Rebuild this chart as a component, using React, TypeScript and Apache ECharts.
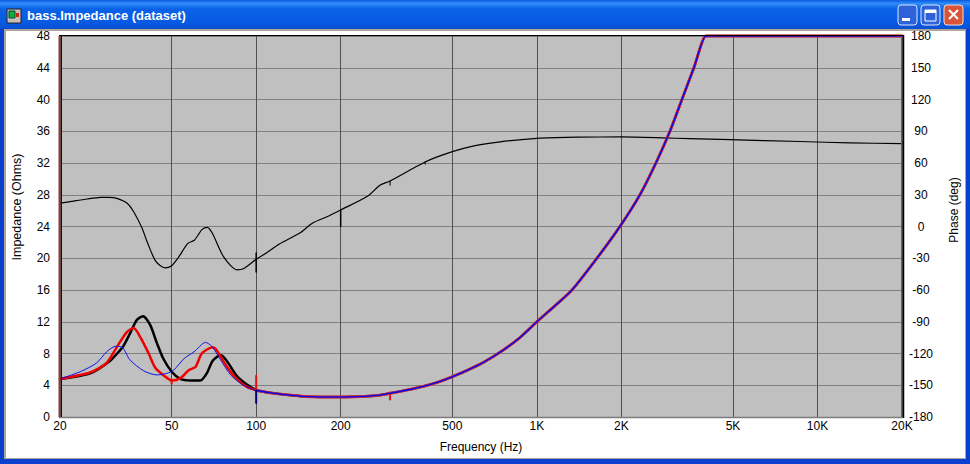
import React, { useEffect, useRef } from "react";
import * as echarts from "echarts";

const xTickValues = [20, 50, 100, 200, 500, 1000, 2000, 5000, 10000, 20000];
const xTickLabels: Record<number, string> = { 20: "20", 50: "50", 100: "100", 200: "200", 500: "500", 1000: "1K", 2000: "2K", 5000: "5K", 10000: "10K", 20000: "20K" };

// impedance above the first resonance region, shared by all three traces
const sharedHigh = [
  [100, 3.35], [112, 3.05], [124.6, 2.85], [149, 2.58], [170, 2.52], [199, 2.52], [235, 2.58], [268, 2.7], [307, 3.05], [350, 3.45], [393, 3.85], [445, 4.4], [498, 5.05],
  [570, 5.95], [643, 6.85], [757, 8.4], [870, 10], [1000, 12], [1159, 14], [1334, 16], [1637, 20], [1977, 24],
  [2330, 28], [2656, 32], [2980, 36], [3288, 40], [3627, 44], [4000, 48], [4040, 48], [6000, 48], [10000, 48], [20000, 48],
];
const blackLow = [
  [20, 4.8], [25.6, 5.5], [30.2, 7.1], [32.7, 8.4], [33.6, 8.9], [35.5, 10.5], [37.5, 12.2], [39.5, 12.7], [41.9, 11.6], [44.3, 9.3], [46.6, 7.4], [50, 5.7],
  [53.7, 4.8], [58.3, 4.6], [63.3, 4.6], [66.7, 5.5], [70, 7.1], [74.7, 7.8], [78.8, 7], [85.2, 5.2], [92.6, 4.1], [100, 3.4],
];
const redLow = [
  [20, 4.8], [25.6, 5.6], [29.3, 6.8], [32, 8.9], [34.6, 10.7], [36.6, 11.2], [38.6, 10.1], [41.4, 8], [43.7, 6.2], [46.6, 5.3], [50, 4.6],
  [53.7, 4.9], [57.5, 5.9], [60.8, 6.3], [64, 8], [70, 8.8], [72, 8.5], [78.8, 6.3], [85.2, 4.8], [92.6, 3.8], [100, 3.4],
];
const blueLow = [
  [20, 4.8], [23.6, 5.7], [27, 6.8], [29.3, 8.2], [31.5, 8.9], [33.3, 8.8], [35.5, 7.2], [39.8, 5.8], [44.3, 5.3], [48, 5.5], [50.8, 5.9],
  [55.5, 7.4], [60, 8.2], [66, 9.4], [69.5, 8.9], [74.7, 7.2], [81.1, 5.3], [90, 4], [100, 3.3],
];
const phaseTrace = [
  [20, 22], [22.3, 24], [25, 26], [27.8, 27.5], [30, 27.6], [31.9, 26.6], [34.7, 22], [36.6, 14], [39.2, -1.5], [40.8, -14], [43.9, -33], [47.3, -39], [50, -37],
  [52.6, -30], [57.1, -16], [60.2, -13], [64.2, -2.7], [67, -0.8], [69.8, -6.4], [76.7, -29], [85.4, -41], [90, -40], [100, -31], [108.7, -25], [121, -16.5],
  [143, -6.2], [159, 3.3], [178, 9], [200, 15.6], [250, 28.8], [276, 39], [300, 43], [400, 61], [500, 70.7], [592, 76], [739, 80], [1026, 83.5],
  [1400, 84.5], [2000, 84.6], [2800, 83.8], [3500, 83], [4876, 82], [8660, 80.3], [13040, 79], [20000, 78.4],
];
// narrow spikes in the measured traces
const blackPhaseSpike100 = [[100, -25], [100, -43]];
const blackPhaseSpike200 = [[200, 15.6], [200, 0]];
const blackPhaseSpike300 = [[300, 43], [300, 39]];
const blackPhaseSpike400 = [[400, 61], [400, 59]];
const redSpike100 = [[100, 5.2], [100, 3.4]];
const redSpike50 = [[50, 4.6], [50, 4.2]];
const redSpike300 = [[300, 3.1], [300, 2.2]];
const blueSpike100 = [[100, 3.3], [100, 1.75]];

const line = (name: string, data: number[][], color: string, width: number, yAxisIndex = 0, smooth: number | boolean = 0.25) => ({
  name, type: "line", data, yAxisIndex, smooth, clip: false, showSymbol: false, symbol: "none", silent: true,
  lineStyle: { color, width, cap: "round", join: "round" },
});

const FONT = "'Liberation Sans', Arial, sans-serif";
echarts.graphic.registerShape("closeX", echarts.graphic.extendPath("M0 0L9 9M9 0L0 9", {}));

const chrome: any[] = [
  { type: "rect", silent: true, z: -10, shape: { x: 0, y: 0, width: 970, height: 464 }, style: { fill: "#0b3fd0" } },
  { type: "rect", silent: true, z: -9, shape: { x: 0, y: 0, width: 970, height: 29 }, style: { fill: new echarts.graphic.LinearGradient(0, 0, 0, 1, [
    { offset: 0, color: "#0a5ae0" }, { offset: 0.12, color: "#2f8cf8" }, { offset: 0.3, color: "#0a62e8" }, { offset: 0.8, color: "#0759e2" }, { offset: 1, color: "#0a4fd0" },
  ]) } },
  { type: "rect", silent: true, z: -8, shape: { x: 4, y: 29, width: 962, height: 430 }, style: { fill: "#aca899" } },
  { type: "rect", silent: true, z: -7, shape: { x: 6, y: 31, width: 959, height: 427 }, style: { fill: "#ffffff" } },
  { type: "rect", silent: true, shape: { x: 7, y: 9, width: 14, height: 14 }, style: { fill: "#c8c0b8", stroke: "#222", lineWidth: 1 } },
  { type: "rect", silent: true, shape: { x: 9, y: 11, width: 6, height: 7 }, style: { fill: "#10b030", stroke: "#044", lineWidth: 1 } },
  { type: "rect", silent: true, shape: { x: 16, y: 13, width: 3, height: 4 }, style: { fill: "#d02020" } },
  { type: "text", silent: true, x: 27, y: 9, style: { text: "bass.Impedance (dataset)", font: "bold 13px " + FONT, fill: "#ffffff" } },
  // window buttons
  { type: "rect", silent: true, shape: { x: 898, y: 5, width: 19, height: 20, r: 3 }, style: { fill: "#2f62d8", stroke: "#dbe6ff", lineWidth: 1 } },
  { type: "rect", silent: true, shape: { x: 902, y: 18, width: 8, height: 3 }, style: { fill: "#ffffff" } },
  { type: "rect", silent: true, shape: { x: 921, y: 5, width: 19, height: 20, r: 3 }, style: { fill: "#2f62d8", stroke: "#dbe6ff", lineWidth: 1 } },
  { type: "rect", silent: true, shape: { x: 925, y: 10, width: 11, height: 11 }, style: { fill: "none", stroke: "#ffffff", lineWidth: 1 } },
  { type: "rect", silent: true, shape: { x: 925, y: 10, width: 11, height: 3 }, style: { fill: "#ffffff" } },
  { type: "rect", silent: true, shape: { x: 944, y: 5, width: 19, height: 20, r: 3 }, style: { fill: "#d8553a", stroke: "#f0e0dc", lineWidth: 1 } },
  { type: "closeX", silent: true, x: 949, y: 10, style: { fill: "none", stroke: "#ffffff", lineWidth: 2 } },
  // axis titles
  { type: "text", silent: true, x: 17, y: 207, rotation: Math.PI / 2, style: { text: "Impedance (Ohms)", font: "12.5px " + FONT, fill: "#000", align: "center", verticalAlign: "middle" } },
  { type: "text", silent: true, x: 954, y: 210, rotation: Math.PI / 2, style: { text: "Phase (deg)", font: "12px " + FONT, fill: "#000", align: "center", verticalAlign: "middle" } },
  { type: "text", silent: true, x: 481, y: 447, style: { text: "Frequency (Hz)", font: "12px " + FONT, fill: "#000", align: "center", verticalAlign: "middle" } },
  // plot frame
  { type: "line", silent: true, z: 20, shape: { x1: 59, y1: 35.5, x2: 903, y2: 35.5 }, style: { stroke: "#000", lineWidth: 1 } },
  { type: "line", silent: true, z: 20, shape: { x1: 59, y1: 417.5, x2: 903, y2: 417.5 }, style: { stroke: "#7c7c7c", lineWidth: 1.5 } },
  { type: "line", silent: true, z: 20, shape: { x1: 59.5, y1: 36, x2: 59.5, y2: 417 }, style: { stroke: "#8a3c3c", lineWidth: 2 } },
  { type: "line", silent: true, z: 20, shape: { x1: 61.5, y1: 36, x2: 61.5, y2: 417 }, style: { stroke: "#111", lineWidth: 1 } },
  { type: "line", silent: true, z: 20, shape: { x1: 901.5, y1: 36, x2: 901.5, y2: 417 }, style: { stroke: "#d03030", lineWidth: 1 } },
  { type: "line", silent: true, z: 20, shape: { x1: 903.5, y1: 35, x2: 903.5, y2: 418 }, style: { stroke: "#000", lineWidth: 1.5 } },
];

export default function App() {
  const ref = useRef<HTMLDivElement>(null);
  useEffect(() => {
    document.body.style.margin = "0";
    document.body.style.overflow = "hidden";
    const chart = echarts.init(ref.current!, null, { renderer: "svg" });
    chart.setOption({
      animation: false,
      backgroundColor: "transparent",
      textStyle: { fontFamily: FONT },
      grid: { left: 60, right: 68, top: 36, bottom: 47, show: true, backgroundColor: "#c0c0c0", borderWidth: 0 },
      xAxis: {
        type: "log", logBase: 10, min: 20, max: 20000,
        axisLine: { show: false },
        axisTick: { show: false, customValues: xTickValues },
        minorTick: { show: false },
        splitLine: { show: true, customValues: xTickValues, lineStyle: { color: "#505050", width: 1 } },
        minorSplitLine: { show: false },
        axisLabel: { customValues: xTickValues, showMinLabel: true, showMaxLabel: true, hideOverlap: false, color: "#000", fontSize: 12, margin: 3, formatter: (v: number) => xTickLabels[Math.round(v)] ?? "" },
      },
      yAxis: [
        {
          type: "value", min: 0, max: 48, interval: 4,
          axisLine: { show: false }, axisTick: { show: false },
          splitLine: { show: true, lineStyle: { color: "#7f7f7f", width: 1 } },
          axisLabel: { color: "#000", fontSize: 12, margin: 10 },
        },
        {
          type: "value", min: -180, max: 180, interval: 30, position: "right",
          axisLine: { show: false }, axisTick: { show: false }, splitLine: { show: false },
          axisLabel: { color: "#000", fontSize: 12, margin: 19, align: "center" },
        },
      ],
      graphic: chrome,
      series: [
        line("Phase", phaseTrace, "#000", 1.2, 1),
        line("Phase spike 100", blackPhaseSpike100, "#000", 1.5, 1, false),
        line("Phase spike 200", blackPhaseSpike200, "#000", 1.5, 1, false),
        line("Phase spike 300", blackPhaseSpike300, "#000", 1, 1, false),
        line("Phase spike 400", blackPhaseSpike400, "#000", 1, 1, false),
        line("Black low", blackLow, "#000", 2.5),
        line("Black high", sharedHigh, "#000", 2.5),
        line("Red spike 100", redSpike100, "#e01010", 2, 0, false),
        line("Red spike 50", redSpike50, "#e01010", 2, 0, false),
        line("Red spike 300", redSpike300, "#e01010", 2, 0, false),
        line("Red low", redLow, "#f00000", 2.5),
        line("Red high", sharedHigh, "#f03030", 2.8),
        line("Blue low", blueLow, "#1010e8", 1),
        line("Blue high", sharedHigh, "#1008e0", 1.6),
        line("Blue spike 100", blueSpike100, "#000070", 2, 0, false),
      ],
    });
    return () => chart.dispose();
  }, []);
  return <div ref={ref} style={{ width: 970, height: 464 }} />;
}
